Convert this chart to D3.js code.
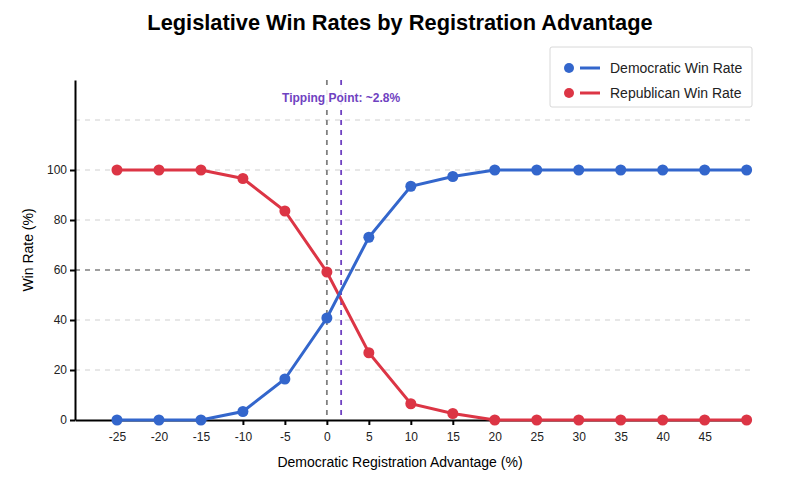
<!DOCTYPE html>
<html>
<head>
<meta charset="utf-8">
<script src="https://cdn.jsdelivr.net/npm/d3@7"></script>
<style>
  body { margin: 0; background: #fff; }
  svg { font-family: "Liberation Sans", Arial, sans-serif; }
  .axis path, .axis line { stroke: #000; }
  .axis text { font-size: 12px; fill: #222; }
</style>
</head>
<body>
<div id="chart"></div>
<script>
var svgWidth = 800;
var svgHeight = 500;

// data
var advantage = [-25, -20, -15, -10, -5, 0, 5, 10, 15, 20, 25, 30, 35, 40, 45, 50];
var demWinRate = [0, 0, 0, 3.4, 16.4, 40.8, 73.1, 93.5, 97.4, 100, 100, 100, 100, 100, 100, 100];
var repWinRate = [100, 100, 100, 96.6, 83.6, 59.2, 26.9, 6.5, 2.6, 0, 0, 0, 0, 0, 0, 0];
var xTicks = [-25, -20, -15, -10, -5, 0, 5, 10, 15, 20, 25, 30, 35, 40, 45];
var yTicks = [0, 20, 40, 60, 80, 100];
var gridValues = [20, 40, 60, 80, 100, 120];
var refLineY = 60;
var zeroLineX = 0;
var tippingX = 1.7;
var seriesNames = ["Democratic Win Rate", "Republican Win Rate"];
var seriesColors = ["#3366cc", "#dc3545"];

var svg = d3.select("#chart")
    .append("svg")
    .attr("width", svgWidth)
    .attr("height", svgHeight);

var x = d3.scaleLinear().domain([-30, 50.4]).range([75, 750]);
var y = d3.scaleLinear().domain([0, 136]).range([420, 80]);

// title
svg.append("text")
    .attr("x", 400)
    .attr("y", 30)
    .attr("text-anchor", "middle")
    .attr("font-size", "21.8px")
    .attr("font-weight", "bold")
    .attr("fill", "#000")
    .text("Legislative Win Rates by Registration Advantage");

// grid lines
svg.append("g").selectAll("line")
    .data(gridValues)
    .enter()
    .append("line")
    .attr("x1", x.range()[0])
    .attr("x2", x.range()[1])
    .attr("y1", d => y(d))
    .attr("y2", d => y(d))
    .attr("stroke", d => d === refLineY ? "#808080" : "#e0e0e0")
    .attr("stroke-width", 1.5)
    .attr("stroke-dasharray", "5,5");

// vertical reference lines
svg.append("line")
    .attr("x1", x(zeroLineX)).attr("x2", x(zeroLineX))
    .attr("y1", y.range()[1]).attr("y2", y.range()[0])
    .attr("stroke", "#808080")
    .attr("stroke-width", 1.8)
    .attr("stroke-dasharray", "5,5");

svg.append("line")
    .attr("x1", x(tippingX)).attr("x2", x(tippingX))
    .attr("y1", y.range()[1]).attr("y2", y.range()[0])
    .attr("stroke", "#6f42c1")
    .attr("stroke-width", 1.8)
    .attr("stroke-dasharray", "5,5");

// axes
svg.append("g")
    .attr("class", "axis")
    .attr("transform", "translate(0,420)")
    .call(d3.axisBottom(x).tickValues(xTicks).tickFormat(d => String(d)).tickSize(5).tickSizeOuter(0))
    .call(g => g.select(".domain").attr("stroke-width", 2))
    .call(g => g.selectAll(".tick line").attr("stroke-width", 2))
    .call(g => g.selectAll(".tick text").attr("dy", "1.1em"));

svg.append("g")
    .attr("class", "axis")
    .attr("transform", "translate(75,0)")
    .call(d3.axisLeft(y).tickValues(yTicks).tickFormat(d => String(d)).tickSize(5).tickSizeOuter(0))
    .call(g => g.select(".domain").attr("stroke-width", 2))
    .call(g => g.selectAll(".tick line").attr("stroke-width", 2));

// series
var series = [demWinRate, repWinRate];
var line = d3.line()
    .x((d, i) => x(advantage[i]))
    .y(d => y(d));

[1, 0].forEach(function (s) {
    svg.append("path")
        .datum(series[s])
        .attr("fill", "none")
        .attr("stroke", seriesColors[s])
        .attr("stroke-width", 3)
        .attr("d", line);

    svg.append("g").selectAll("circle")
        .data(series[s])
        .enter()
        .append("circle")
        .attr("cx", (d, i) => x(advantage[i]))
        .attr("cy", d => y(d))
        .attr("r", 5.5)
        .attr("fill", seriesColors[s]);
});

// tipping point label with white background
var tipLabel = svg.append("g");
tipLabel.append("rect")
    .attr("x", x(tippingX) - 62)
    .attr("y", 90)
    .attr("width", 124)
    .attr("height", 16)
    .attr("fill", "#fff")
    .attr("opacity", 0.85);
tipLabel.append("text")
    .attr("x", x(tippingX))
    .attr("y", 102)
    .attr("text-anchor", "middle")
    .attr("font-size", "12px")
    .attr("font-weight", "bold")
    .attr("fill", "#6f42c1")
    .text("Tipping Point: ~2.8%");

// axis labels
svg.append("text")
    .attr("x", 400)
    .attr("y", 467)
    .attr("text-anchor", "middle")
    .attr("font-size", "14px")
    .attr("fill", "#000")
    .text("Democratic Registration Advantage (%)");

svg.append("text")
    .attr("transform", "rotate(-90)")
    .attr("x", -250)
    .attr("y", 33)
    .attr("text-anchor", "middle")
    .attr("font-size", "14px")
    .attr("fill", "#000")
    .text("Win Rate (%)");

// legend
var legend = svg.append("g").attr("transform", "translate(550,47)");
legend.append("rect")
    .attr("width", 202)
    .attr("height", 60)
    .attr("rx", 2)
    .attr("fill", "#fff")
    .attr("stroke", "#d8d8d8");

seriesNames.forEach(function (name, i) {
    var row = legend.append("g").attr("transform", `translate(0, ${21 + i * 25})`);
    row.append("circle").attr("cx", 19).attr("cy", 0).attr("r", 5).attr("fill", seriesColors[i]);
    row.append("line").attr("x1", 30).attr("x2", 50).attr("y1", 0).attr("y2", 0)
        .attr("stroke", seriesColors[i]).attr("stroke-width", 3);
    row.append("text").attr("x", 60).attr("y", 5)
        .attr("font-size", "14px").attr("fill", "#222").text(name);
});
</script>
</body>
</html>
